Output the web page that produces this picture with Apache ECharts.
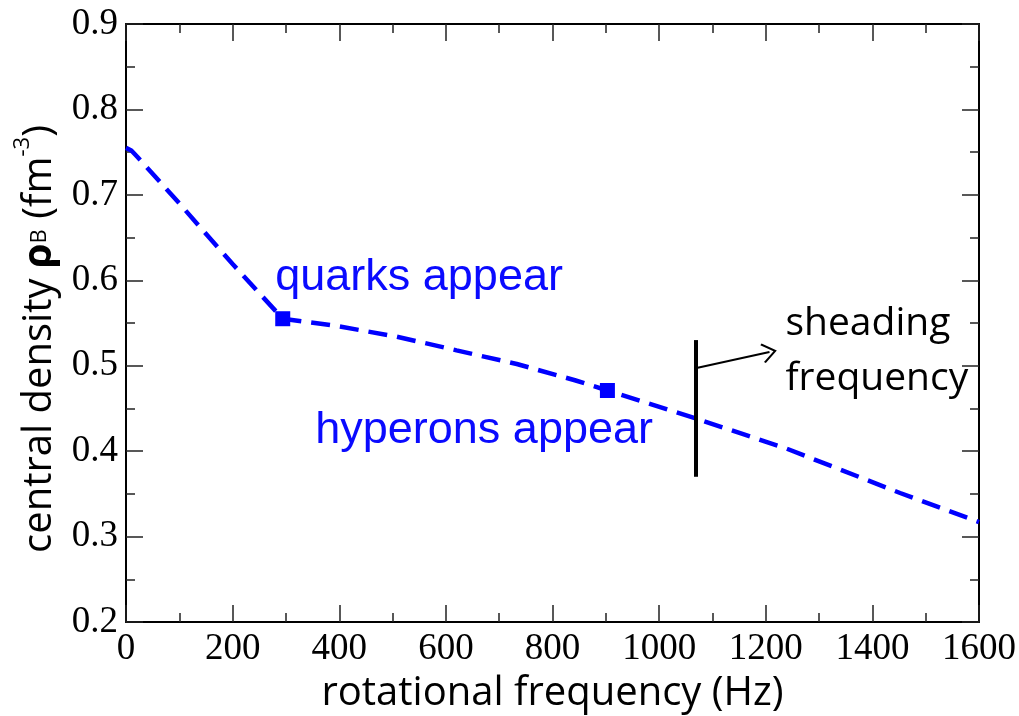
<!DOCTYPE html>
<html>
<head>
<meta charset="utf-8">
<script src="https://cdn.jsdelivr.net/npm/echarts@6/dist/echarts.min.js"></script>
<style>html,body{margin:0;padding:0;background:#fff}#c{width:1019px;height:716px}</style>
</head>
<body>
<div id="c"></div>
<script>
// ---- data ----
const freq = [0, 10, 22, 100, 200, 294, 395, 508, 620, 733, 842, 903, 1070, 1239, 1452, 1600];
const dens = [0.755, 0.752, 0.744, 0.690, 0.619, 0.555, 0.5465, 0.534, 0.518, 0.502, 0.483, 0.471, 0.438, 0.403, 0.351, 0.317];
const markFreq = [294, 903];
const markDens = [0.555, 0.471];
const annotText = ['quarks appear', 'hyperons appear'];
const annotX = [279, 354];
const annotY = [0.603, 0.424];
const noteText = ['sheading', 'frequency'];
const noteX = [1236, 1236];
const noteY = [0.549, 0.484];
const shedFreq = 1068;
const shedRange = [0.37, 0.53];
const arrowFrom = [1068, 0.497];
const arrowTo = [1207, 0.516];
const xTicks = [0, 1600, 200];
const yTicks = [0.2, 0.9, 0.1];

const chart = echarts.init(document.getElementById('c'));
const serif = 'Liberation Serif';
const sans = 'Open Sans';
const tickCommon = {
  axisTick: {show: true, inside: true, length: 17, lineStyle: {color: '#222', width: 1.5}},
  minorTick: {show: true, splitNumber: 2, length: 9, lineStyle: {color: '#222', width: 1.5}},
  axisLine: {show: true, onZero: false, lineStyle: {color: '#000', width: 2}},
  splitLine: {show: false},
  minorSplitLine: {show: false}
};
const chevron = 'path://M0,0 L10,12 L8.6,13.4 L0,3 L-8.6,13.4 L-10,12 Z';
const clear = 'rgba(0,0,0,0)';

chart.setOption({
  animation: false,
  backgroundColor: '#fff',
  grid: {left: 126, right: 40, top: 24, bottom: 94, containLabel: false, outerBoundsMode: 'none'},
  xAxis: [
    Object.assign({
      type: 'value', min: xTicks[0], max: xTicks[1], interval: xTicks[2], position: 'bottom',
      name: 'rotational frequency (Hz)', nameLocation: 'middle', nameGap: 52, nameMoveOverlap: false,
      nameTextStyle: {fontFamily: sans, fontSize: 40, color: '#000'},
      axisLabel: {fontFamily: serif, fontSize: 37, color: '#000', margin: 9,
        formatter: v => String(v)}
    }, tickCommon),
    Object.assign({
      type: 'value', min: xTicks[0], max: xTicks[1], interval: xTicks[2], position: 'top',
      axisLabel: {show: false}
    }, tickCommon)
  ],
  yAxis: [
    Object.assign({
      type: 'value', min: yTicks[0], max: yTicks[1], interval: yTicks[2], position: 'left',
      name: '{n|central density }{b|ρ}{sub|B}{n| (fm}{sup|-3}{n|)}',
      nameLocation: 'middle', nameRotate: 90, nameGap: 58, nameMoveOverlap: false,
      nameTextStyle: {
        fontFamily: sans, fontSize: 40, color: '#000', padding: [0, 32, 0, 0],
        rich: {
          n: {fontFamily: sans, fontSize: 40, lineHeight: 56, color: '#000'},
          b: {fontFamily: sans, fontSize: 40, lineHeight: 56, fontWeight: 'bold', color: '#000'},
          sub: {fontFamily: sans, fontSize: 22, lineHeight: 22, color: '#000'},
          sup: {fontFamily: sans, fontSize: 22, lineHeight: 22, verticalAlign: 'top', color: '#000'}
        }
      },
      axisLabel: {fontFamily: serif, fontSize: 37, color: '#000', margin: 8,
        formatter: v => v.toFixed(1)}
    }, tickCommon),
    Object.assign({
      type: 'value', min: yTicks[0], max: yTicks[1], interval: yTicks[2], position: 'right',
      axisLabel: {show: false}
    }, tickCommon)
  ],
  series: [
    {
      type: 'line', xAxisIndex: 0, yAxisIndex: 0,
      data: freq.map((f, i) => [f, dens[i]]),
      showSymbol: false, symbol: 'none', smooth: false,
      lineStyle: {color: '#0000ff', width: 4.5, type: [19, 10], cap: 'butt'}
    },
    {
      type: 'scatter', xAxisIndex: 0, yAxisIndex: 0,
      data: markFreq.map((f, i) => [f, markDens[i]]),
      symbol: 'rect', symbolSize: 15, itemStyle: {color: '#0000ff', opacity: 1},
      markLine: {
        silent: true, animation: false,
        label: {show: false},
        data: [
          [{coord: [shedFreq, shedRange[0]], symbol: 'none', lineStyle: {width: 4}},
           {coord: [shedFreq, shedRange[1]], symbol: 'none'}],
          [{coord: arrowFrom, symbol: 'none'}, {coord: arrowTo, symbol: chevron, symbolSize: [20, 15]}]
        ],
        lineStyle: {color: '#000', type: 'solid', width: 2}
      }
    },
    {
      type: 'scatter', xAxisIndex: 0, yAxisIndex: 0, silent: true,
      data: annotText.map((t, i) => ({value: [annotX[i], annotY[i]], name: t})),
      symbolSize: 1, itemStyle: {color: clear, opacity: 1},
      label: {show: true, position: 'right', distance: 0, formatter: p => p.name,
        fontFamily: 'Liberation Sans', fontSize: 45, color: '#0a0aff'},
      labelLayout: {hideOverlap: false}
    },
    {
      type: 'scatter', xAxisIndex: 0, yAxisIndex: 0, silent: true,
      data: noteText.map((t, i) => ({value: [noteX[i], noteY[i]], name: t})),
      symbolSize: 1, itemStyle: {color: clear, opacity: 1},
      label: {show: true, position: 'right', distance: 0, formatter: p => p.name,
        fontFamily: sans, fontSize: 39, color: '#000'},
      labelLayout: {hideOverlap: false}
    }
  ]
});
</script>
</body>
</html>
